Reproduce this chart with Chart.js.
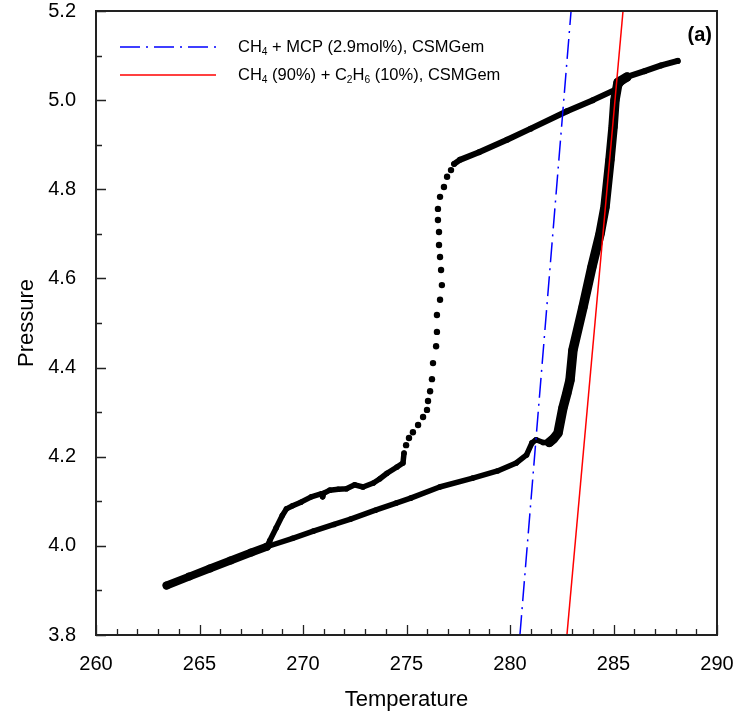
<!DOCTYPE html>
<html lang="en">
<head>
<meta charset="UTF-8">
<title>Pressure vs Temperature</title>
<script src="https://cdn.jsdelivr.net/npm/chart.js@4.4.0/dist/chart.umd.min.js"></script>
<style>
  html, body { margin: 0; padding: 0; background: #fff; }
</style>
</head>
<body>
<canvas id="myChart" width="737" height="723"></canvas>
<script>
// axis ticks
const xTicks = [260, 265, 270, 275, 280, 285, 290]
const yTicks = [3.8, 4.0, 4.2, 4.4, 4.6, 4.8, 5.0, 5.2]

// CSMGem model lines (end points)
const mcpT = [280.48, 282.95]
const mcpP = [3.8, 5.2]
const ethT = [282.75, 285.46]
const ethP = [3.8, 5.2]

// measured loop, read off the figure
// top branch, 288 K down to the knee
const topT = [288.1, 287.3, 286.5, 285.65, 285.3, 285.07, 284.0, 282.75, 281.0, 279.86, 278.5, 277.58, 277.3]
const topP = [5.088, 5.078, 5.065, 5.052, 5.035, 5.023, 5.000, 4.975, 4.936, 4.911, 4.883, 4.866, 4.857]
// pressure drop, sparse points
const dropT = [277.15, 276.96, 276.81, 276.62, 276.52, 276.52, 276.57, 276.57, 276.62, 276.67, 276.71, 276.62, 276.47,
  276.47, 276.43, 276.28, 276.23, 276.14, 276.04, 275.99, 275.80, 275.56, 275.31, 275.12, 274.98]
const dropP = [4.843, 4.828, 4.805, 4.783, 4.756, 4.731, 4.704, 4.675, 4.648, 4.619, 4.585, 4.552, 4.518,
  4.480, 4.448, 4.410, 4.374, 4.347, 4.325, 4.305, 4.289, 4.271, 4.255, 4.242, 4.226]
// upper middle branch down to the split
const midT = [274.88, 274.83, 274.54, 274.06, 273.7, 273.4, 272.9, 272.5, 272.1, 271.7, 271.3, 271.0, 270.95, 270.9,
  270.4, 269.9, 269.5, 269.2, 269.0, 268.7, 268.4, 268.25]
const midP = [4.208, 4.186, 4.177, 4.163, 4.150, 4.141, 4.132, 4.137, 4.128, 4.127, 4.125, 4.118, 4.110, 4.117,
  4.110, 4.098, 4.090, 4.083, 4.068, 4.040, 4.012, 3.998]
// lower left, both runs overlap
const leftT = [263.41, 264.5, 265.5, 266.5, 267.5, 268.25]
const leftP = [3.911, 3.931, 3.949, 3.967, 3.985, 3.998]
// heating branch
const lowT = [268.25, 269.5, 270.5, 271.5, 272.3, 273.5, 274.5, 275.2, 276.6, 278.2, 279.4, 280.3, 280.8, 281.06, 281.26, 281.6, 281.9]
const lowP = [3.998, 4.017, 4.033, 4.048, 4.060, 4.080, 4.096, 4.107, 4.132, 4.152, 4.168, 4.186, 4.204, 4.231, 4.238, 4.232, 4.232]
// dissociation, steep rise
const riseT = [281.9, 282.1, 282.32, 282.56, 282.75, 282.9, 283.04, 283.53, 283.96, 284.35, 284.59, 284.83, 284.98, 285.07, 285.22, 285.65]
const riseP = [4.232, 4.240, 4.253, 4.31, 4.343, 4.372, 4.439, 4.536, 4.626, 4.70, 4.76, 4.866, 4.94, 5.0, 5.04, 5.052]

const FONT = '"Liberation Sans", Arial, sans-serif'
const pts = (xs, ys) => xs.map((x, i) => ({ x: x, y: ys[i] }))

function measured(xs, ys, width, radius) {
  return {
    label: '',
    data: pts(xs, ys),
    showLine: width > 0,
    borderColor: '#000',
    backgroundColor: '#000',
    borderWidth: width,
    borderCapStyle: 'round',
    borderJoinStyle: 'round',
    pointRadius: radius,
    pointBorderWidth: 0
  }
}

// draw text, unicode subscript digits drawn small and lowered
function drawRich(ctx, text, x, y, size) {
  const subs = '₀₁₂₃₄₅₆₇₈₉'
  let runs = []
  for (const ch of text) {
    const i = subs.indexOf(ch)
    const sub = i >= 0
    const c = sub ? String(i) : ch
    if (runs.length && runs[runs.length - 1].sub === sub) runs[runs.length - 1].t += c
    else runs.push({ t: c, sub: sub })
  }
  let cx = x
  runs.forEach(r => {
    ctx.font = (r.sub ? size * 0.62 : size) + 'px ' + FONT
    ctx.fillText(r.t, cx, r.sub ? y + size * 0.32 : y)
    cx += ctx.measureText(r.t).width
  })
}

const framePlugin = {
  id: 'frame',
  afterDraw(chart) {
    const { ctx, chartArea: a, scales: { x, y } } = chart
    ctx.save()
    ctx.strokeStyle = '#222'
    ctx.lineWidth = 1.3
    ctx.beginPath()
    for (let v = 260; v <= 290; v++) {
      const px = Math.round(x.getPixelForValue(v)) + 0.5
      const len = v % 5 === 0 ? 10 : 6
      ctx.moveTo(px, a.bottom)
      ctx.lineTo(px, a.bottom - len)
    }
    for (let k = 0; k <= 14; k++) {
      const py = Math.round(y.getPixelForValue(3.8 + k * 0.1)) + 0.5
      const len = k % 2 === 0 ? 10 : 6
      ctx.moveTo(a.left, py)
      ctx.lineTo(a.left + len, py)
    }
    ctx.stroke()
    ctx.lineWidth = 2
    ctx.strokeRect(a.left, a.top, a.right - a.left, a.bottom - a.top)

    // legend
    ctx.textBaseline = 'middle'
    ctx.fillStyle = '#000'
    const rows = [47, 75]
    rows.forEach((ry, i) => {
      const ds = chart.data.datasets[i]
      ctx.beginPath()
      ctx.strokeStyle = ds.borderColor
      ctx.lineWidth = ds.borderWidth
      ctx.setLineDash(ds.borderDash || [])
      ctx.moveTo(120, ry)
      ctx.lineTo(216, ry)
      ctx.stroke()
      ctx.setLineDash([])
      drawRich(ctx, ds.label, 238, ry, 16.5)
    })
    ctx.font = 'bold 20px ' + FONT
    ctx.textAlign = 'right'
    ctx.fillText('(a)', a.right - 5, 35)
    ctx.restore()
  }
}

const config = {
  type: 'scatter',
  data: {
    datasets: [
      {
        label: 'CH₄ + MCP (2.9mol%), CSMGem',
        data: pts(mcpT, mcpP),
        showLine: true,
        borderColor: '#0000ff',
        borderWidth: 1.5,
        borderDash: [20, 6, 2, 6],
        pointRadius: 0
      },
      {
        label: 'CH₄ (90%) + C₂H₆ (10%), CSMGem',
        data: pts(ethT, ethP),
        showLine: true,
        borderColor: '#ff0000',
        borderWidth: 1.5,
        pointRadius: 0
      },
      measured(topT, topP, 6, 3),
      measured(dropT, dropP, 0, 3.2),
      measured(midT, midP, 5.5, 2.8),
      measured(leftT, leftP, 8, 4),
      measured(lowT, lowP, 5.5, 2.8),
      measured(riseT, riseP, 9.5, 4.5)
    ]
  },
  options: {
    responsive: false,
    animation: false,
    layout: { padding: { left: 0, right: 20, top: 11, bottom: 0 } },
    plugins: {
      legend: { display: false },
      tooltip: { enabled: false }
    },
    scales: {
      x: {
        type: 'linear',
        min: 260,
        max: 290,
        grid: { display: false },
        border: { display: false },
        afterBuildTicks: s => { s.ticks = xTicks.map(v => ({ value: v })) },
        afterFit: s => { s.height = 88; s.paddingLeft = 0; s.paddingRight = 0 },
        ticks: { font: { family: FONT, size: 20 }, color: '#000', padding: 9 },
        title: { display: true, text: 'Temperature', color: '#000', font: { family: FONT, size: 22 }, padding: { top: 0, bottom: 10 } }
      },
      y: {
        type: 'linear',
        min: 3.8,
        max: 5.2,
        grid: { display: false },
        border: { display: false },
        afterBuildTicks: s => { s.ticks = yTicks.map(v => ({ value: v })) },
        afterFit: s => { s.width = 96; s.paddingTop = 0; s.paddingBottom = 0 },
        ticks: { font: { family: FONT, size: 20 }, color: '#000', padding: 12, callback: v => v.toFixed(1) },
        title: { display: true, text: 'Pressure', color: '#000', font: { family: FONT, size: 22 }, padding: { top: 14, bottom: 0 } }
      }
    }
  },
  plugins: [framePlugin]
}

var myChart = new Chart(document.getElementById('myChart'), config)
</script>
</body>
</html>
